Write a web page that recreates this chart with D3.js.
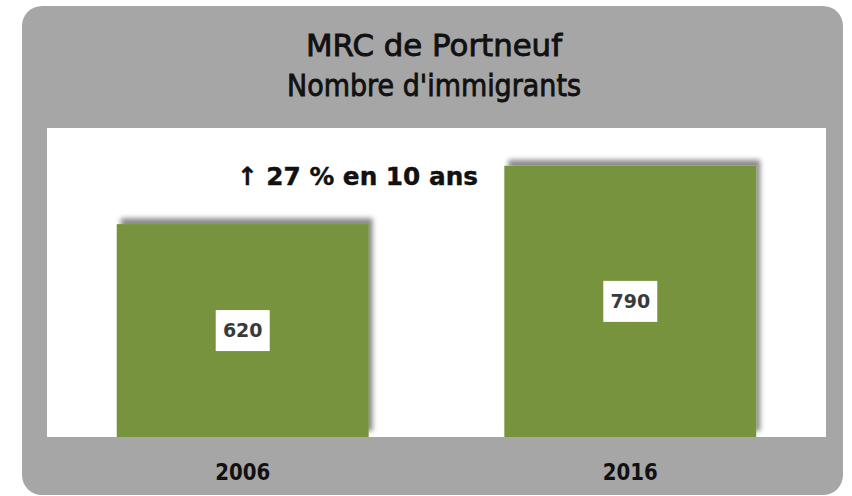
<!DOCTYPE html>
<html>
<head>
<meta charset="utf-8">
<script src="https://cdn.jsdelivr.net/npm/d3@7"></script>
<style>
  body { margin: 0; background: #fff; }
  #chart text { font-family: "DejaVu Sans", sans-serif; }
</style>
</head>
<body>
<div id="chart"></div>
<script>
// Chart data
const years = ["2006", "2016"];
const immigrants = [620, 790];
const titleLines = ["MRC de Portneuf", "Nombre d'immigrants"];
const note = "\u2191 27 % en 10 ans";

const W = 852, H = 496;
const plot = { left: 47, right: 826, top: 128, bottom: 437 };

const svg = d3.select("#chart").append("svg")
    .attr("width", W)
    .attr("height", H);

// drop shadow for the bars (up and right)
const defs = svg.append("defs");
defs.append("filter")
    .attr("id", "barShadow")
    .attr("x", "-10%").attr("y", "-20%")
    .attr("width", "130%").attr("height", "140%")
  .append("feDropShadow")
    .attr("dx", 4)
    .attr("dy", -6)
    .attr("stdDeviation", 2.5)
    .attr("flood-color", "#000")
    .attr("flood-opacity", 0.45);

// gray rounded frame
svg.append("rect")
    .attr("x", 22).attr("y", 6)
    .attr("width", 821).attr("height", 489)
    .attr("rx", 20)
    .attr("fill", "#a6a6a6");

// white plot area
svg.append("rect")
    .attr("x", plot.left).attr("y", plot.top)
    .attr("width", plot.right - plot.left)
    .attr("height", plot.bottom - plot.top)
    .attr("fill", "#fff");

// title
svg.selectAll(".title")
    .data(titleLines)
    .enter()
    .append("text")
    .attr("class", "title")
    .attr("x", 434)
    .attr("y", (d, i) => 56 + i * 40)
    .attr("text-anchor", "middle")
    .attr("textLength", (d, i) => i === 0 ? 256 : 294)
    .attr("lengthAdjust", "spacingAndGlyphs")
    .style("font-size", "31px")
    .style("fill", "#111")
    .style("stroke", "#111")
    .style("stroke-width", 0.9)
    .text(d => d);

// scales
const x = d3.scaleBand()
    .domain(years)
    .range([plot.left, plot.right])
    .paddingInner(0.35)
    .paddingOuter(0.18);

const y = d3.scaleLinear()
    .domain([0, 900])
    .range([plot.bottom, plot.top]);

const data = years.map((yr, i) => ({ year: yr, value: immigrants[i] }));

// bars
svg.selectAll(".bar")
    .data(data)
    .enter()
    .append("rect")
    .attr("class", "bar")
    .attr("x", d => x(d.year))
    .attr("y", d => y(d.value))
    .attr("width", x.bandwidth())
    .attr("height", d => y(0) - y(d.value))
    .attr("fill", "#77933c")
    .attr("filter", "url(#barShadow)");

// value labels in white boxes
const lab = svg.selectAll(".lab")
    .data(data)
    .enter()
    .append("g")
    .attr("class", "lab")
    .attr("transform", d => `translate(${x(d.year) + x.bandwidth() / 2},${(y(0) + y(d.value)) / 2})`);

lab.append("rect")
    .attr("x", -27).attr("y", -20.5)
    .attr("width", 54).attr("height", 41)
    .attr("fill", "#fff");

lab.append("text")
    .attr("text-anchor", "middle")
    .attr("dy", "0.36em")
    .style("font-size", "19px")
    .style("font-weight", "bold")
    .style("fill", "#3a3a3a")
    .text(d => d.value);

// x axis labels (years)
svg.append("g")
    .attr("transform", `translate(0,${plot.bottom})`)
    .call(d3.axisBottom(x).tickSize(0).tickPadding(0))
    .call(g => g.select(".domain").remove())
    .selectAll("text")
    .attr("y", 43)
    .attr("dy", 0)
    .attr("textLength", 55)
    .attr("lengthAdjust", "spacingAndGlyphs")
    .style("font-family", "DejaVu Sans, sans-serif")
    .style("font-size", "23px")
    .style("font-weight", "bold")
    .style("fill", "#111");

// growth note
svg.append("text")
    .attr("x", 237)
    .attr("y", 185)
    .attr("textLength", 241)
    .attr("lengthAdjust", "spacingAndGlyphs")
    .style("font-size", "25px")
    .style("font-weight", "bold")
    .style("fill", "#111")
    .style("stroke", "#111")
    .style("stroke-width", 0.4)
    .text(note);
</script>
</body>
</html>
